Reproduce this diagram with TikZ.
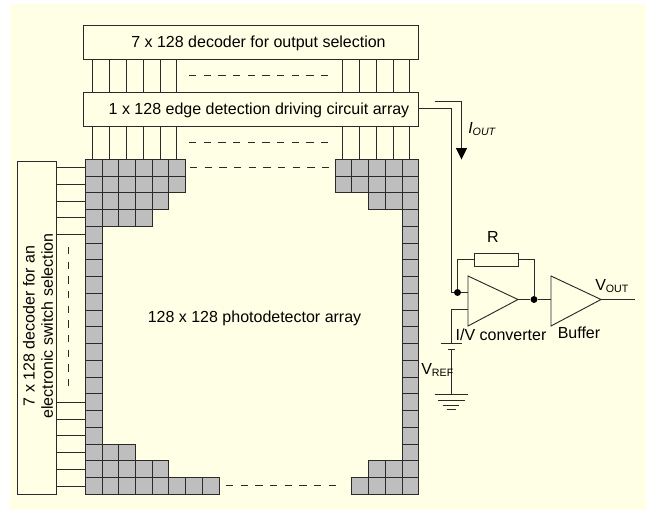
\documentclass[tikz,border=0pt]{standalone}
\usepackage{fontspec}
\setmainfont{Liberation Sans}
\usetikzlibrary{arrows.meta}
\definecolor{bgc}{HTML}{FFFFE5}
\definecolor{cellc}{HTML}{BEBEBE}
\definecolor{inkc}{HTML}{2A2A2A}
\tikzset{
  wire/.style={draw=inkc,line width=0.7pt},
  boxn/.style={draw=inkc,line width=0.7pt,fill=bgc,inner sep=0pt,anchor=north west},
  cellbox/.style={draw=inkc,line width=0.7pt,fill=cellc,inner sep=0pt,minimum width=12.55pt,minimum height=12.55pt,anchor=north west},
  dashwire/.style={draw=inkc,line width=0.7pt,dash pattern=on 5.5pt off 5.5pt},
  lab/.style={inner sep=0pt,font=\fontsize{12pt}{13.7pt}\selectfont},
  pt/.style={circle,fill=black,inner sep=0pt,minimum size=5.2pt},
}
\begin{document}
\begin{tikzpicture}[x=0.75pt,y=-0.75pt]
\useasboundingbox (0,0) rectangle (646,510);
\fill[bgc] (10,4) rectangle (646,510);
% boxes
\node[boxn,minimum width=251.6pt,minimum height=25.5pt] (dec) at (83,25) {};
\node[boxn,minimum width=251.6pt,minimum height=25.5pt] (drv) at (83,92) {};
\node[boxn,minimum width=29.7pt,minimum height=250pt] (sel) at (16.5,160.5) {};
\node[lab] at (258.5,43) {7 x 128 decoder for output selection};
\node[lab] at (259,110) {1 x 128 edge detection driving circuit array};
\node[lab,rotate=90,align=center] at (38,326) {7 x 128 decoder for an\\electronic switch selection};
\node[lab] at (254.5,318.5) {128 x 128 photodetector array};
% cells: name cell-col-row, col and row from 0
\foreach \r/\cols in {0/{0,1,2,3,4,5},1/{0,1,2,3,4,5},2/{0,1,2,3,4},3/{0,1,2,3},
  4/{0},5/{0},6/{0},7/{0},8/{0},9/{0},10/{0},11/{0},12/{0},13/{0},14/{0},15/{0},16/{0},
  17/{0,1,2},18/{0,1,2,3,4},19/{0,1,2,3,4,5,6,7}}{
  \foreach \c in \cols {
    \node[cellbox] (L\c-\r) at ({84.8+16.73*\c},{158.8+16.76*\r}) {};
  }
}
\foreach \r/\cols in {0/{0,1,2,3,4},1/{0,1,2,3,4},2/{2,3,4},3/{4},4/{4},5/{4},6/{4},7/{4},8/{4},9/{4},10/{4},11/{4},12/{4},13/{4},14/{4},15/{4},16/{4},
  17/{4},18/{2,3,4},19/{1,2,3,4}}{
  \foreach \c in \cols {
    \node[cellbox] (R\c-\r) at ({334.6+16.73*\c},{158.8+16.76*\r}) {};
  }
}
% vertical connectors, left group
\foreach \c/\x in {0/92.5,1/109,2/126,3/143,4/160,5/176.3}{
  \draw[wire] (\x,25|-dec.south) -- (\x,25|-drv.north);
  \draw[wire] (\x,25|-drv.south) -- (\x,25|-L\c-0.north);
}
% vertical connectors, right group
\foreach \c/\x in {0/342.8,1/359.5,2/376,3/393,4/409.7}{
  \draw[wire] (\x,25|-dec.south) -- (\x,25|-drv.north);
  \draw[wire] (\x,25|-drv.south) -- (\x,25|-R\c-0.north);
}
% horizontal connectors from the selection decoder
\foreach \r in {0,1,2,3,4,14,15,16,17,18,19}{
  \draw[wire] (L0-\r.west-|sel.east) -- (L0-\r.west);
}
% dashes
\draw[dashwire] (189,75) -- (332,75);
\draw[dashwire] (189,142) -- (332,142);
\draw[dashwire] (190,167.5) -- (332,167.5);
\draw[dashwire] (226,485) -- (342,485);
\draw[dashwire] (68,247) -- (68,390);
% circuit
\node[draw=inkc,line width=0.7pt,fill=bgc,inner sep=0pt,minimum width=33pt,minimum height=9.8pt] (res) at (496.5,259.5) {};
\coordinate (opa) at (468,276);
\coordinate (opb) at (468,326);
\coordinate (opc) at (518,299.5);
\coordinate (bfa) at (551,276);
\coordinate (bfb) at (551,326);
\coordinate (bfc) at (601,299.5);
\draw[wire,line join=miter] (opa) -- (opc) -- (opb) -- cycle;
\draw[wire,line join=miter] (bfa) -- (bfc) -- (bfb) -- cycle;
\node[pt] (inv) at (457.5,292.5) {};
\node[pt] (fb) at (534,299.5) {};
\coordinate (out) at (634.5,299.5);
\draw[wire] (drv.east|-0,108.5) -- (451,108.5) -- (451,292.5) -- (inv);
\draw[wire] (inv) -- (468,292.5);
\draw[wire] (inv) |- (res.west);
\draw[wire] (res.east) -| (fb);
\draw[wire] (opc) -- (fb) -- (bfa|-fb);
\draw[wire] (bfc) -- (out);
% current arrow
\coordinate (ia) at (434.5,101.5);
\coordinate (ib) at (461.5,101.5);
\coordinate (ic) at (461.5,148);
\draw[wire] (ia) -- (ib) -- (ic);
\fill[black] (455.8,148) -- (467.2,148) -- (461.5,159.5) -- cycle;
% reference source
\coordinate (pa) at (441,343);
\coordinate (pb) at (462,343);
\coordinate (qa) at (448,349.5);
\coordinate (qb) at (454.5,349.5);
\coordinate (gnd) at (451,394);
\draw[wire] (opa|-0,309.3) -- (451,309.3) -- (451,343);
\draw[wire] (pa) -- (pb);
\draw[wire] (qa) -- (qb);
\draw[wire] (451,349.5) -- (gnd);
\draw[wire] (434.5,394) -- (468,394);
\draw[wire] (437.5,400) -- (464.5,400);
\draw[wire] (442.5,405) -- (458.5,405);
\draw[wire] (446.5,409.5) -- (455.5,409.5);
% labels
\node[lab] at (493,237) {R};
\node[lab] at (501,335) {I/V converter};
\node[lab] at (579,332.5) {Buffer};
\node[lab,anchor=base west] at (595,290) {V\textsubscript{OUT}};
\node[lab,anchor=base west] at (421,374) {V\textsubscript{REF}};
\node[lab,anchor=base west] at (468,133) {\textit{I}\textsubscript{\textit{OUT}}};
\end{tikzpicture}
\end{document}
